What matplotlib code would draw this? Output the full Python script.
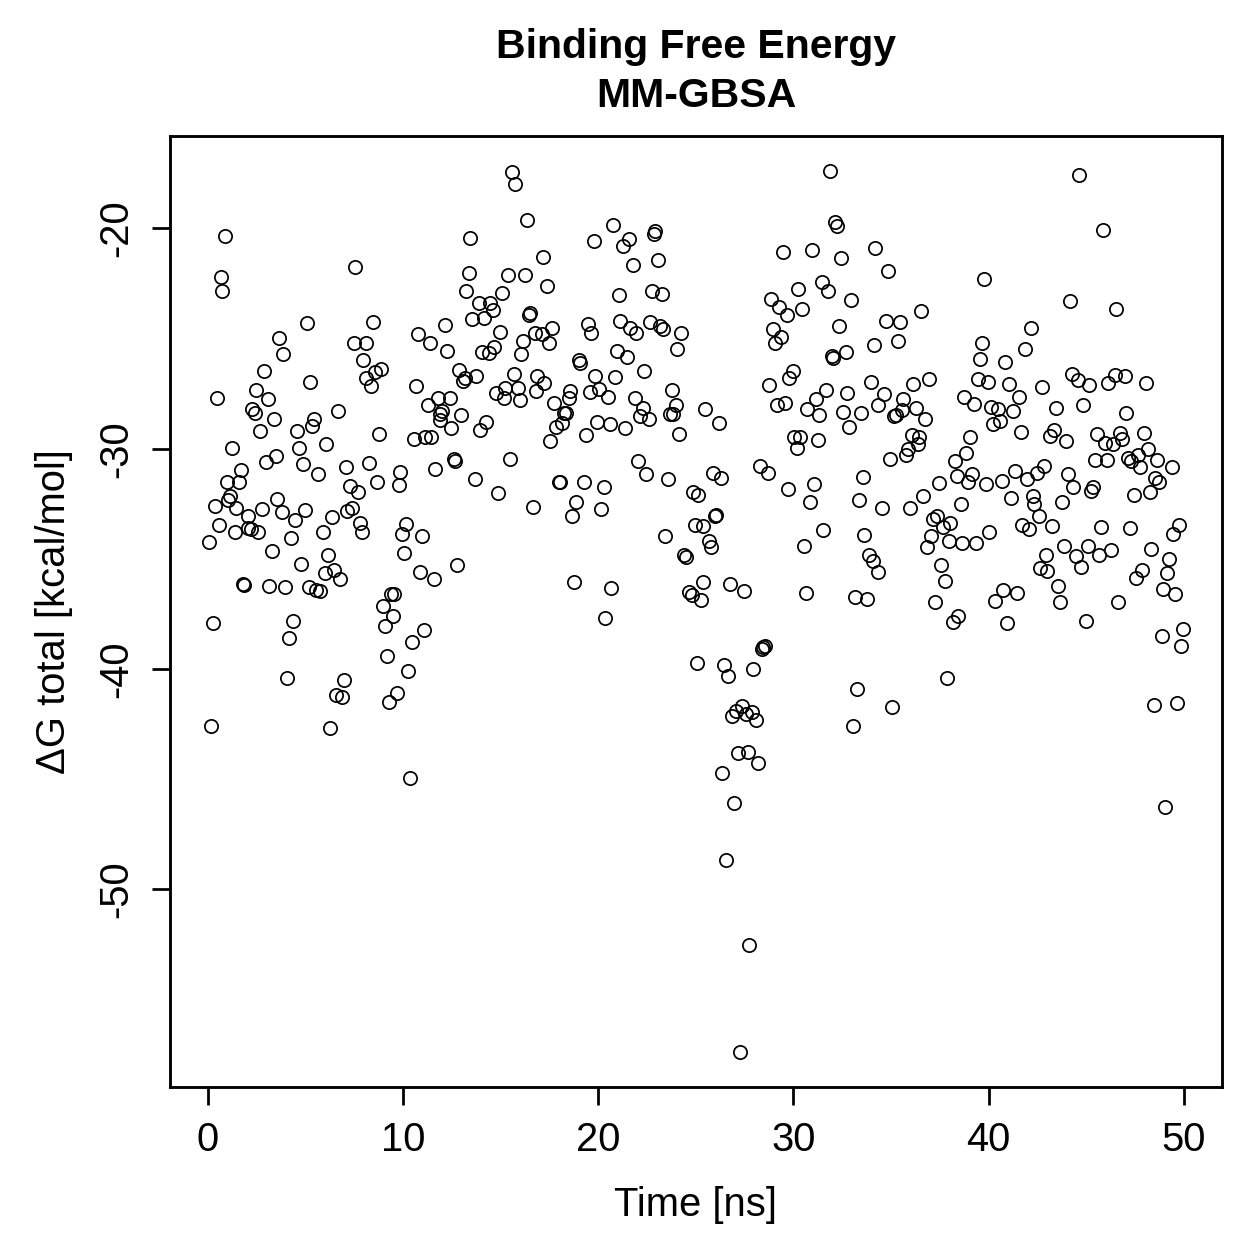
import numpy as np
import matplotlib
matplotlib.use('Agg')
import matplotlib.pyplot as plt

# MM-GBSA binding free energy per frame
time_ns = [
    0.07, 0.19, 0.29, 0.38, 0.49, 0.60, 0.70, 0.76, 0.89, 0.97,
    1.07, 1.14, 1.26, 1.40, 1.48, 1.60, 1.69, 1.81, 1.86, 2.06,
    2.09, 2.25, 2.29, 2.41, 2.47, 2.59, 2.68, 2.78, 2.88, 2.97,
    3.07, 3.17, 3.29, 3.38, 3.50, 3.58, 3.67, 3.79, 3.87, 3.97,
    4.08, 4.18, 4.26, 4.38, 4.47, 4.59, 4.68, 4.76, 4.88, 4.98,
    5.07, 5.17, 5.27, 5.36, 5.46, 5.56, 5.68, 5.78, 5.90, 5.99,
    6.07, 6.18, 6.29, 6.38, 6.50, 6.57, 6.69, 6.79, 6.89, 6.98,
    7.08, 7.15, 7.27, 7.40, 7.49, 7.57, 7.69, 7.80, 7.89, 7.97,
    8.09, 8.14, 8.29, 8.38, 8.48, 8.60, 8.68, 8.77, 8.89, 8.99,
    9.08, 9.19, 9.28, 9.37, 9.48, 9.54, 9.71, 9.79, 9.88, 9.96,
    10.08, 10.18, 10.27, 10.39, 10.47, 10.56, 10.68, 10.78, 10.87, 10.99,
    11.07, 11.16, 11.28, 11.38, 11.46, 11.58, 11.67, 11.79, 11.88, 11.92,
    12.01, 12.18, 12.27, 12.40, 12.47, 12.60, 12.69, 12.78, 12.86, 12.98,
    13.10, 13.20, 13.25, 13.37, 13.46, 13.56, 13.68, 13.77, 13.89, 13.97,
    14.06, 14.18, 14.28, 14.40, 14.48, 14.60, 14.69, 14.79, 14.86, 14.96,
    15.08, 15.16, 15.25, 15.39, 15.47, 15.59, 15.68, 15.76, 15.88, 15.98,
    16.07, 16.16, 16.27, 16.36, 16.48, 16.53, 16.67, 16.77, 16.84, 16.87,
    17.13, 17.16, 17.25, 17.38, 17.47, 17.55, 17.64, 17.76, 17.86, 17.98,
    18.05, 18.15, 18.28, 18.35, 18.49, 18.58, 18.66, 18.75, 18.88, 19.00,
    19.09, 19.26, 19.38, 19.46, 19.57, 19.65, 19.77, 19.86, 19.97, 20.06,
    20.16, 20.28, 20.37, 20.49, 20.59, 20.68, 20.76, 20.88, 20.97, 21.05,
    21.14, 21.27, 21.36, 21.48, 21.56, 21.65, 21.77, 21.87, 21.95, 22.07,
    22.16, 22.28, 22.36, 22.47, 22.59, 22.64, 22.76, 22.88, 22.93, 23.05,
    23.18, 23.27, 23.35, 23.44, 23.56, 23.66, 23.78, 23.86, 23.99, 24.04,
    24.16, 24.26, 24.41, 24.51, 24.68, 24.80, 24.86, 24.94, 25.06, 25.14,
    25.26, 25.37, 25.40, 25.49, 25.66, 25.78, 25.88, 26.00, 26.05, 26.17,
    26.29, 26.37, 26.46, 26.56, 26.68, 26.77, 26.85, 26.97, 27.08, 27.19,
    27.28, 27.36, 27.45, 27.58, 27.70, 27.75, 27.87, 27.96, 28.10, 28.18,
    28.27, 28.40, 28.47, 28.55, 28.69, 28.76, 28.85, 28.95, 29.07, 29.19,
    29.27, 29.36, 29.46, 29.58, 29.67, 29.75, 29.80, 29.97, 30.06, 30.18,
    30.23, 30.35, 30.47, 30.55, 30.66, 30.72, 30.86, 30.94, 31.06, 31.15,
    31.29, 31.34, 31.46, 31.54, 31.68, 31.76, 31.88, 31.97, 32.05, 32.14,
    32.23, 32.36, 32.45, 32.57, 32.69, 32.77, 32.87, 32.96, 33.04, 33.16,
    33.25, 33.37, 33.47, 33.55, 33.62, 33.76, 33.90, 33.96, 34.07, 34.14,
    34.19, 34.36, 34.36, 34.56, 34.66, 34.75, 34.87, 34.95, 35.07, 35.16,
    35.26, 35.38, 35.47, 35.55, 35.64, 35.77, 35.89, 35.98, 36.06, 36.15,
    36.27, 36.40, 36.45, 36.54, 36.66, 36.75, 36.86, 36.97, 37.04, 37.14,
    37.26, 37.34, 37.46, 37.56, 37.65, 37.77, 37.85, 37.97, 38.02, 38.16,
    38.28, 38.37, 38.45, 38.57, 38.65, 38.76, 38.84, 38.96, 39.05, 39.13,
    39.27, 39.36, 39.44, 39.56, 39.65, 39.76, 39.87, 39.99, 40.04, 40.12,
    40.24, 40.33, 40.46, 40.58, 40.67, 40.75, 40.84, 40.96, 41.06, 41.15,
    41.26, 41.35, 41.44, 41.56, 41.66, 41.69, 41.86, 41.95, 42.07, 42.17,
    42.26, 42.34, 42.46, 42.56, 42.63, 42.75, 42.84, 42.94, 42.97, 43.14,
    43.26, 43.35, 43.45, 43.57, 43.65, 43.74, 43.86, 43.96, 44.05, 44.17,
    44.25, 44.33, 44.47, 44.56, 44.64, 44.76, 44.85, 44.97, 45.07, 45.15,
    45.24, 45.33, 45.45, 45.56, 45.65, 45.75, 45.87, 45.96, 46.07, 46.13,
    46.25, 46.35, 46.47, 46.55, 46.64, 46.72, 46.86, 46.98, 47.03, 47.15,
    47.24, 47.32, 47.46, 47.54, 47.66, 47.75, 47.87, 47.95, 48.05, 48.17,
    48.26, 48.34, 48.46, 48.52, 48.65, 48.74, 48.86, 48.94, 49.06, 49.15,
    49.25, 49.37, 49.45, 49.54, 49.66, 49.76, 49.85, 49.96,
]

dg_total = [
    -34.23, -42.60, -37.90, -32.59, -27.68, -33.45, -22.22, -22.84, -20.35, -31.53,
    -32.32, -32.14, -29.98, -33.80, -32.67, -31.53, -30.96, -36.15, -36.20, -33.62,
    -33.05, -33.65, -28.18, -28.36, -27.35, -33.77, -29.19, -32.74, -26.45, -30.60,
    -27.76, -36.22, -34.63, -28.63, -30.34, -32.26, -24.96, -32.86, -25.68, -36.27,
    -40.40, -38.60, -34.07, -37.80, -33.23, -29.19, -29.95, -35.25, -30.70, -32.79,
    -24.28, -36.27, -26.97, -28.96, -28.63, -36.40, -31.16, -36.48, -33.76, -35.65,
    -29.80, -34.81, -42.70, -33.09, -35.51, -41.20, -28.28, -35.90, -41.25, -40.50,
    -30.81, -32.83, -31.69, -32.67, -25.18, -21.75, -31.96, -33.38, -33.77, -25.99,
    -25.18, -26.77, -30.67, -27.15, -24.23, -26.52, -31.49, -29.34, -26.36, -37.16,
    -38.06, -39.40, -41.48, -36.60, -37.61, -36.60, -41.09, -31.64, -31.04, -33.85,
    -34.74, -33.42, -40.10, -44.94, -38.76, -29.57, -27.15, -24.81, -35.59, -33.98,
    -38.23, -29.45, -28.01, -25.18, -29.45, -35.92, -30.93, -27.68, -28.69, -28.44,
    -28.28, -24.38, -25.56, -27.68, -29.04, -30.48, -30.55, -35.28, -26.42, -28.47,
    -26.92, -26.77, -22.84, -22.04, -20.42, -24.13, -31.38, -26.70, -23.40, -29.15,
    -25.61, -24.05, -28.77, -25.67, -23.40, -23.70, -25.38, -27.48, -32.02, -24.69,
    -22.95, -27.68, -27.24, -22.10, -30.48, -17.45, -26.59, -18.00, -27.24, -27.80,
    -25.71, -25.11, -22.13, -19.62, -23.93, -23.82, -32.64, -24.76, -27.38, -26.70,
    -24.81, -21.28, -27.00, -22.59, -25.22, -29.67, -24.50, -27.91, -29.01, -31.50,
    -31.50, -28.84, -28.40, -28.36, -27.68, -27.38, -33.05, -36.04, -32.41, -25.97,
    -26.09, -31.50, -29.37, -24.35, -27.42, -24.76, -20.57, -26.70, -28.77, -27.27,
    -32.74, -31.76, -37.70, -27.63, -28.89, -36.34, -19.86, -26.74, -25.56, -23.02,
    -24.20, -20.80, -29.04, -25.84, -20.47, -24.50, -21.66, -27.68, -24.76, -30.55,
    -28.51, -28.13, -26.47, -31.16, -28.63, -24.25, -22.84, -20.27, -20.12, -21.45,
    -24.43, -22.99, -24.58, -33.98, -31.38, -28.44, -27.35, -28.44, -28.01, -25.49,
    -29.34, -24.73, -34.81, -34.93, -36.49, -36.64, -31.96, -33.45, -39.74, -32.09,
    -36.86, -36.07, -33.50, -28.18, -34.18, -34.48, -31.11, -33.05, -33.00, -28.84,
    -31.31, -44.73, -39.82, -48.69, -40.33, -36.15, -42.15, -46.09, -41.93, -43.81,
    -57.38, -41.69, -36.45, -42.04, -43.78, -52.52, -41.97, -40.00, -42.30, -44.28,
    -30.78, -39.10, -39.02, -38.95, -31.08, -27.10, -23.22, -24.55, -25.18, -28.01,
    -23.55, -24.91, -21.07, -27.94, -23.95, -31.84, -26.77, -26.47, -29.45, -29.98,
    -22.77, -29.46, -23.64, -34.41, -36.57, -28.21, -32.44, -21.00, -31.61, -27.72,
    -29.60, -28.47, -22.42, -33.70, -27.35, -22.84, -17.40, -25.79, -25.87, -19.71,
    -19.89, -24.43, -21.33, -28.33, -25.59, -27.45, -29.00, -23.27, -42.60, -36.72,
    -40.91, -32.34, -28.39, -31.28, -33.91, -36.83, -34.83, -26.95, -35.09, -25.31,
    -20.88, -28.03, -35.59, -32.67, -27.50, -24.20, -21.94, -30.48, -41.74, -28.51,
    -28.46, -25.11, -24.25, -28.24, -27.72, -30.29, -30.02, -32.70, -29.37, -27.04,
    -28.16, -29.77, -29.45, -23.75, -32.14, -28.66, -34.48, -26.82, -33.98, -33.20,
    -36.98, -33.05, -31.56, -35.28, -33.57, -35.99, -40.42, -34.18, -33.39, -37.88,
    -30.55, -31.23, -37.61, -32.52, -34.30, -27.65, -30.20, -31.49, -29.45, -31.16,
    -27.98, -34.30, -26.82, -25.91, -25.22, -22.31, -31.61, -26.97, -33.80, -28.09,
    -28.90, -36.90, -28.18, -28.74, -31.46, -36.40, -26.05, -37.93, -27.07, -32.24,
    -28.28, -31.00, -36.55, -27.65, -29.24, -33.47, -25.46, -31.38, -33.65, -24.50,
    -32.14, -32.52, -31.11, -33.05, -35.43, -27.20, -30.78, -34.83, -35.54, -29.42,
    -33.50, -29.16, -28.16, -36.25, -36.95, -32.41, -34.41, -29.64, -31.16, -23.30,
    -26.62, -31.76, -34.89, -26.88, -17.58, -35.36, -28.03, -37.81, -34.41, -27.10,
    -31.91, -31.76, -30.50, -29.34, -34.83, -33.57, -20.09, -29.72, -30.50, -27.03,
    -34.59, -29.80, -26.67, -23.67, -36.98, -29.27, -29.57, -26.70, -28.40, -30.40,
    -33.62, -30.55, -32.09, -35.87, -30.29, -30.85, -35.50, -29.30, -27.00, -29.99,
    -31.96, -34.56, -41.63, -31.31, -30.51, -31.50, -38.52, -36.37, -46.27, -35.65,
    -35.01, -30.85, -33.85, -36.60, -41.56, -33.45, -38.94, -38.19,
]

x_ticks = [0, 10, 20, 30, 40, 50]
y_ticks = [-20, -30, -40, -50]

plt.rcParams['font.family'] = ['Liberation Sans', 'DejaVu Sans']
plt.rcParams['font.size'] = 16

fig = plt.figure(figsize=(1259 / 180, 1259 / 180), dpi=180)
ax = fig.add_axes([0.135, 0.1366, 0.8356, 0.7554])

ax.plot(time_ns, dg_total, linestyle='none', marker='o', markersize=5.3,
        markerfacecolor='none', markeredgecolor='black', markeredgewidth=0.7)

# R-style 4% padding around the data range
x = np.array(time_ns)
y = np.array(dg_total)
xr = x.max() - x.min()
yr = y.max() - y.min()
ax.set_xlim(x.min() - 0.04 * xr, x.max() + 0.04 * xr)
ax.set_ylim(y.min() - 0.04 * yr, y.max() + 0.04 * yr)

ax.set_xticks(x_ticks)
ax.set_yticks(y_ticks)
ax.set_yticklabels([str(v) for v in y_ticks], rotation=90, va='center')
ax.tick_params(axis='both', direction='out', length=7.2, width=1.1,
               labelsize=16, pad=6.5)

for side in ['top', 'right', 'left', 'bottom']:
    ax.spines[side].set_linewidth(1.15)

ax.set_xlabel('Time [ns]', fontsize=16)
ax.set_ylabel('ΔG total [kcal/mol]', fontsize=16)
ax.xaxis.set_label_coords(0.5, -0.124)
ax.yaxis.set_label_coords(-0.11, 0.5)
ax.xaxis.label.set_va('center')
ax.yaxis.label.set_va('center')

ax.text(0.5, 1.0935, 'Binding Free Energy', transform=ax.transAxes,
        ha='center', va='center', fontsize=16.4, fontweight='bold')
ax.text(0.5, 1.042, 'MM-GBSA', transform=ax.transAxes,
        ha='center', va='center', fontsize=16.4, fontweight='bold')

plt.savefig('out.png', dpi=180)
